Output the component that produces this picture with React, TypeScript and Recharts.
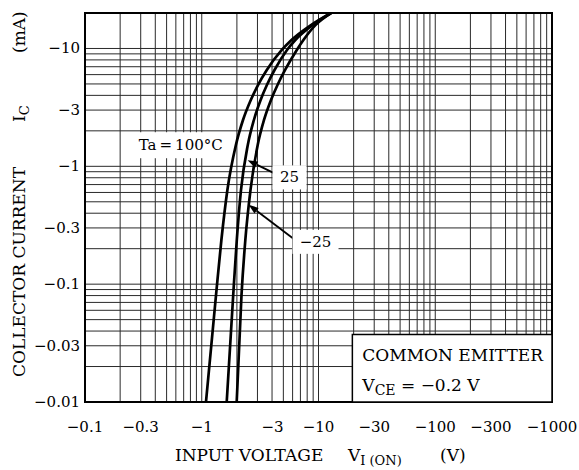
import { LineChart, Line, XAxis, YAxis, CartesianGrid, ReferenceArea, ReferenceDot, ReferenceLine } from 'recharts';

// I_C - V_I(ON) curves (V, mA)
const IC_MA = [-0.01, -0.0809, -0.237, -0.63, -1.517, -2.472, -3.654, -4.898, -6.568, -9.71, -11.8, -15.8, -20];
const VI_100C = [-1.087, -1.325, -1.473, -1.658, -1.961, -2.256, -2.631, -3.032, -3.607, -4.85, -5.871, -8.627, -12.8];
const VI_25C = [-1.636, -1.86, -1.996, -2.169, -2.48, -2.797, -3.192, -3.614, -4.2, -5.373, -6.328, -8.885, -12.8];
const VI_M25C = [-1.992, -2.19, -2.362, -2.616, -3.015, -3.414, -3.919, -4.455, -5.174, -6.518, -7.424, -9.406, -12.8];

const X_LABELS = [-0.1, -0.3, -1, -3, -10, -30, -100, -300, -1000];
const Y_LABELS = [-0.01, -0.03, -0.1, -0.3, -1, -3, -10];
const X_DOMAIN = [-0.1, -1000];
const Y_DOMAIN = [-0.01, -20];

const FONT = "'DejaVu Serif', 'Liberation Serif', serif";

// axes are log scales on the magnitude; the minus sign is added back in the labels
const series = (vs: number[], is: number[]) => vs.map((v, k) => ({ v: Math.abs(v), i: Math.abs(is[k]) }));

const logGrid = (lo: number, hi: number) => {
  const out: number[] = [];
  for (let d = lo; d < hi; d *= 10) {
    for (let m = 1; m <= 9; m++) {
      const v = +(m * d).toPrecision(3);
      if (v <= hi) out.push(v);
    }
  }
  if (out[out.length - 1] !== hi) out.push(hi);
  return out;
};

const xDom = X_DOMAIN.map(Math.abs);
const yDom = Y_DOMAIN.map(Math.abs);
const X_GRID = logGrid(xDom[0], xDom[1]);
const Y_GRID = logGrid(yDom[0], yDom[1]);
const xLab = X_LABELS.map(Math.abs);
const yLab = Y_LABELS.map(Math.abs);
const isLab = (list: number[], v: number) => list.some((l) => Math.abs(l - v) < 1e-9);

const XTick = ({ x, y, payload }: any) => {
  const v = payload.value;
  if (!isLab(xLab, v)) return <g />;
  // the sheet prints "-3" a bit right of its grid line
  const dx = v === 3 ? 15 : 0;
  return (
    <text x={x + dx} y={y} dy={30} textAnchor="middle" fontFamily={FONT} fontSize={15} fill="#000">
      {'\u2212' + v}
    </text>
  );
};

const YTick = ({ x, y, payload }: any) => {
  const v = payload.value;
  if (!isLab(yLab, v)) return <g />;
  return (
    <text x={x - 5} y={y} dy={5} textAnchor="end" fontFamily={FONT} fontSize={15} fill="#000">
      {'\u2212' + v}
    </text>
  );
};

const TagBox = (text: string, w: number, h: number) => (p: any) => (
  <g>
    <rect x={p.cx - w / 2} y={p.cy - h / 2} width={w} height={h} fill="#fff" />
    <text x={p.cx} y={p.cy} dy={5} textAnchor="middle" fontFamily={FONT} fontSize={15} fill="#000">
      {text}
    </text>
  </g>
);

const Arrow = (p: any) => {
  const { x1, y1, x2, y2 } = p;
  const a = Math.atan2(y1 - y2, x1 - x2);
  const L = 10;
  const W = 3.5;
  const bx = x1 - L * Math.cos(a);
  const by = y1 - L * Math.sin(a);
  const px = -Math.sin(a) * W;
  const py = Math.cos(a) * W;
  return (
    <g>
      <line x1={bx} y1={by} x2={x2} y2={y2} stroke="#000" strokeWidth={1.8} />
      <polygon points={`${x1},${y1} ${bx + px},${by + py} ${bx - px},${by - py}`} fill="#000" />
    </g>
  );
};

const CondBox = (p: any) => (
  <g>
    <rect x={p.x} y={p.y} width={p.width} height={p.height} fill="#fff" stroke="#000" strokeWidth={1.5} />
    <text x={p.x + 10} y={p.y + 27} fontFamily={FONT} fontSize={17} fill="#000">
      COMMON EMITTER
    </text>
    <text x={p.x + 10} y={p.y + 57} fontFamily={FONT} fontSize={17} fill="#000">
      V<tspan fontSize={14} dy={4}>CE</tspan>
      <tspan dy={-4}>{' = \u22120.2 V'}</tspan>
    </text>
  </g>
);

const App = () => {
  const d100 = series(VI_100C, IC_MA);
  const d25 = series(VI_25C, IC_MA);
  const dm25 = series(VI_M25C, IC_MA);

  return (
    <div style={{ position: 'absolute', left: 0, top: 0, width: 579, height: 470, background: '#fff' }}>
      <LineChart width={579} height={470} margin={{ top: 13, right: 27, bottom: 38, left: 25 }}>
        <CartesianGrid stroke="#2a2a2a" strokeWidth={1} />
        <XAxis
          type="number"
          dataKey="v"
          scale="log"
          domain={xDom}
          allowDataOverflow
          ticks={X_GRID}
          interval={0}
          tick={<XTick />}
          tickLine={false}
          tickSize={0}
          tickMargin={0}
          axisLine={false}
          height={30}
        />
        <YAxis
          type="number"
          dataKey="i"
          scale="log"
          domain={yDom}
          allowDataOverflow
          ticks={Y_GRID}
          interval={0}
          tick={<YTick />}
          tickLine={false}
          tickSize={0}
          tickMargin={0}
          axisLine={false}
          width={60}
        />
        <ReferenceArea x1={xDom[0]} x2={xDom[1]} y1={yDom[0]} y2={yDom[1]} fill="none" stroke="#000" strokeWidth={2} />
        <ReferenceArea x1={19.5} x2={xDom[1]} y1={yDom[0]} y2={0.0374} shape={CondBox} />
        <ReferenceDot x={0.661} y={1.51} r={0} shape={TagBox('Ta\u2009=\u2009100\u00b0C', 100, 26)} />
        <ReferenceDot x={5.65} y={0.805} r={0} shape={TagBox('25', 34, 24)} />
        <ReferenceDot x={9.43} y={0.2286} r={0} shape={TagBox('\u221225', 46, 24)} />
        <ReferenceLine segment={[{ x: 2.47, y: 1.125 }, { x: 4.375, y: 0.854 }]} shape={Arrow} />
        <ReferenceLine segment={[{ x: 2.52, y: 0.473 }, { x: 6.11, y: 0.2425 }]} shape={Arrow} />
        <Line data={d100} dataKey="i" type="monotone" stroke="#000" strokeWidth={2.7} dot={false} isAnimationActive={false} />
        <Line data={d25} dataKey="i" type="monotone" stroke="#000" strokeWidth={2.7} dot={false} isAnimationActive={false} />
        <Line data={dm25} dataKey="i" type="monotone" stroke="#000" strokeWidth={2.7} dot={false} isAnimationActive={false} />
      </LineChart>
      <svg width={579} height={470} style={{ position: 'absolute', left: 0, top: 0, pointerEvents: 'none' }}>
        <g transform="translate(25, 0) rotate(-90)" fontFamily={FONT} fontSize={17} fill="#000">
          <text x={-377} y={0}>COLLECTOR CURRENT</text>
          <text x={-122} y={0}>
            I<tspan fontSize={13} dy={4}>C</tspan>
          </text>
          <text x={-53} y={0}>(mA)</text>
        </g>
        <g fontFamily={FONT} fontSize={17} fill="#000">
          <text x={175} y={461}>INPUT VOLTAGE</text>
          <text x={348} y={461}>
            V<tspan fontSize={13} dy={4}>{'I (ON)'}</tspan>
          </text>
          <text x={440} y={461}>(V)</text>
        </g>
      </svg>
    </div>
  );
};

export default App;
